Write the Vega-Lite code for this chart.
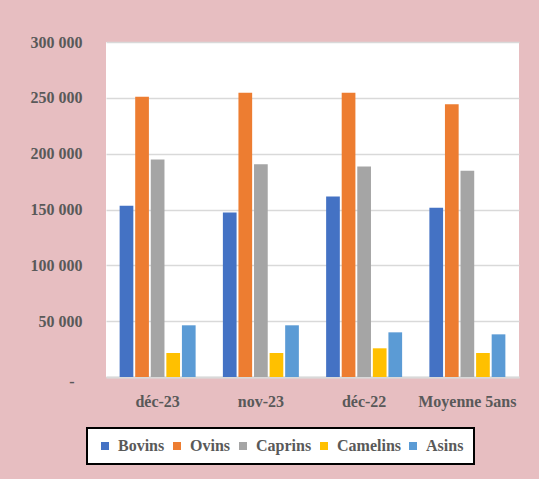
{
  "$schema": "https://vega.github.io/schema/vega-lite/v6.json",
  "autosize": "none",
  "width": 413,
  "height": 335,
  "padding": {"left": 106, "top": 42, "right": 20, "bottom": 102},
  "background": "#e7bec1",
  "data": {
    "values": [
      {"periode": "déc-23", "espece": "Bovins", "effectif": 153300},
      {"periode": "déc-23", "espece": "Ovins", "effectif": 251000},
      {"periode": "déc-23", "espece": "Caprins", "effectif": 194800},
      {"periode": "déc-23", "espece": "Camelins", "effectif": 21500},
      {"periode": "déc-23", "espece": "Asins", "effectif": 46300},
      {"periode": "nov-23", "espece": "Bovins", "effectif": 147400},
      {"periode": "nov-23", "espece": "Ovins", "effectif": 254500},
      {"periode": "nov-23", "espece": "Caprins", "effectif": 190600},
      {"periode": "nov-23", "espece": "Camelins", "effectif": 21500},
      {"periode": "nov-23", "espece": "Asins", "effectif": 46300},
      {"periode": "déc-22", "espece": "Bovins", "effectif": 161700},
      {"periode": "déc-22", "espece": "Ovins", "effectif": 254500},
      {"periode": "déc-22", "espece": "Caprins", "effectif": 188500},
      {"periode": "déc-22", "espece": "Camelins", "effectif": 25700},
      {"periode": "déc-22", "espece": "Asins", "effectif": 40000},
      {"periode": "Moyenne 5ans", "espece": "Bovins", "effectif": 151500},
      {"periode": "Moyenne 5ans", "espece": "Ovins", "effectif": 244300},
      {"periode": "Moyenne 5ans", "espece": "Caprins", "effectif": 184700},
      {"periode": "Moyenne 5ans", "espece": "Camelins", "effectif": 21500},
      {"periode": "Moyenne 5ans", "espece": "Asins", "effectif": 38200}
    ]
  },
  "mark": {"type": "bar"},
  "encoding": {
    "x": {
      "field": "periode",
      "type": "nominal",
      "sort": ["déc-23", "nov-23", "déc-22", "Moyenne 5ans"],
      "scale": {"paddingInner": 0.264, "paddingOuter": 0.132},
      "axis": {
        "title": null,
        "labelAngle": 0,
        "ticks": false,
        "domainColor": "#d9d9d9",
        "domainWidth": 2,
        "labelPadding": 16
      }
    },
    "xOffset": {
      "field": "espece",
      "type": "nominal",
      "sort": ["Bovins", "Ovins", "Caprins", "Camelins", "Asins"],
      "scale": {"paddingInner": 0.12, "paddingOuter": 0}
    },
    "y": {
      "field": "effectif",
      "type": "quantitative",
      "scale": {"domain": [0, 300000], "nice": false},
      "axis": {
        "title": null,
        "values": [0, 50000, 100000, 150000, 200000, 250000, 300000],
        "labelExpr": "datum.value == 0 ? '-' : replace(format(datum.value, ','), ',', ' ')",
        "domain": false,
        "ticks": false,
        "labelPadding": {"condition": {"test": "datum.value == 0", "value": 32}, "value": 24},
        "labelOffset": {"condition": {"test": "datum.value == 0", "value": 4}, "value": 0},
        "gridColor": "#d9d9d9",
        "gridWidth": 1.5
      }
    },
    "color": {
      "field": "espece",
      "type": "nominal",
      "sort": ["Bovins", "Ovins", "Caprins", "Camelins", "Asins"],
      "scale": {
        "domain": ["Bovins", "Ovins", "Caprins", "Camelins", "Asins"],
        "range": ["#4472c4", "#ed7d31", "#a5a5a5", "#ffc000", "#5b9bd5"]
      },
      "legend": {
        "title": null,
        "orient": "none",
        "legendX": -19,
        "legendY": 386,
        "direction": "horizontal",
        "columns": 5,
        "columnPadding": 4,
        "padding": 10,
        "fillColor": "white",
        "strokeColor": "black",
        "symbolType": "square",
        "symbolSize": 64,
        "symbolStrokeWidth": 0,
        "symbolOpacity": 1,
        "labelOffset": 5,
        "encode": {
          "legend": {"update": {"strokeWidth": {"value": 2}}}
        }
      }
    }
  },
  "config": {
    "font": "Liberation Serif",
    "axis": {
      "labelFont": "Liberation Serif",
      "labelFontWeight": "bold",
      "labelFontSize": 16,
      "labelColor": "#595959"
    },
    "legend": {
      "labelFont": "Liberation Serif",
      "labelFontWeight": "bold",
      "labelFontSize": 16,
      "labelColor": "#595959"
    },
    "view": {"fill": "white", "stroke": null}
  }
}
